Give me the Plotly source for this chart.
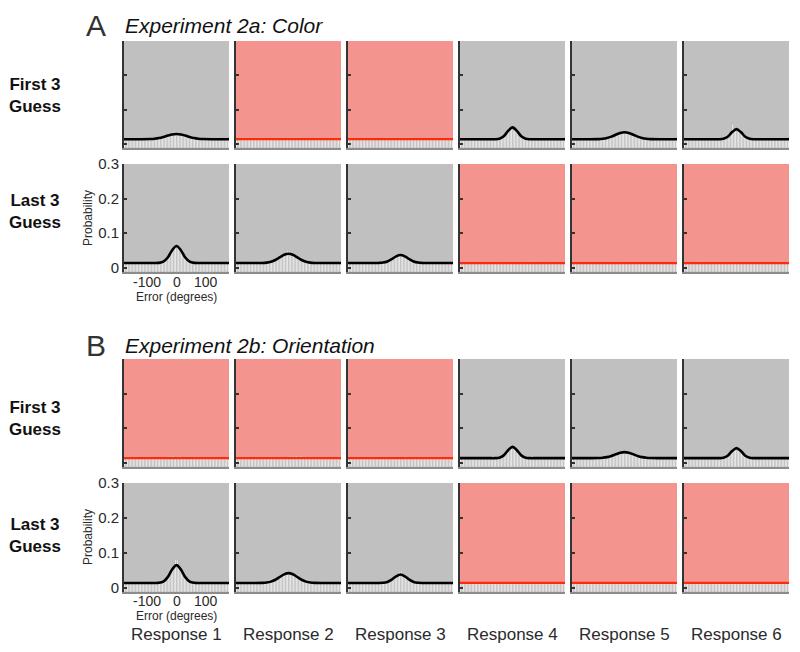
import plotly.graph_objects as go

# ---------------- data ----------------
BIN_WIDTH = 5
BIN_CENTERS = [-177.5 + BIN_WIDTH * i for i in range(72)]
CURVE_X = [-180, -120, -90, -75, -60, -45, -30, -15, 0, 15, 30, 45, 60, 75, 90, 120, 180]
UNIFORM_LEVEL = 139  # x1e-4

RESPONSES = ["Response 1", "Response 2", "Response 3", "Response 4", "Response 5", "Response 6"]
ROW_LABELS = ["First 3<br>Guess", "Last 3<br>Guess", "First 3<br>Guess", "Last 3<br>Guess"]
SECTION_LETTERS = ["A", "B"]
SECTION_TITLES = ["Experiment 2a: Color", "Experiment 2b: Orientation"]
Y_TICKS = [0, 0.1, 0.2, 0.3]
Y_TICK_TEXT = ["0", "0.1", "0.2", "0.3"]
X_TICKS = [-100, 0, 100]
X_TICK_TEXT = ["-100", "0", "100"]

# model chosen per panel: 'mix' = guessing + von Mises (black), 'uniform' = pure guessing (red)
MODEL_A_FIRST = ["mix", "uniform", "uniform", "mix", "mix", "mix"]
MODEL_A_LAST = ["mix", "mix", "mix", "uniform", "uniform", "uniform"]
MODEL_B_FIRST = ["uniform", "uniform", "uniform", "mix", "mix", "mix"]
MODEL_B_LAST = ["mix", "mix", "mix", "uniform", "uniform", "uniform"]

# fitted curves (probability x1e-4) at CURVE_X; None for uniform panels
FIT_A_FIRST = [
    [135, 135, 141, 151, 171, 203, 242, 276, 290, 276, 242, 203, 171, 151, 141, 135, 135],
    None, None,
    [135, 135, 135, 135, 136, 150, 221, 379, 480, 379, 221, 150, 136, 135, 135, 135, 135],
    [135, 135, 139, 148, 170, 211, 267, 319, 340, 319, 267, 211, 170, 148, 139, 135, 135],
    [135, 135, 135, 135, 136, 148, 208, 344, 430, 344, 208, 148, 136, 135, 135, 135, 135],
]
FIT_A_LAST = [
    [139, 139, 139, 139, 144, 178, 298, 509, 629, 509, 298, 178, 144, 139, 139, 139, 139],
    [139, 139, 142, 151, 176, 227, 303, 377, 409, 377, 303, 227, 176, 151, 142, 139, 139],
    [139, 139, 139, 142, 152, 185, 251, 331, 369, 331, 251, 185, 152, 142, 139, 139, 139],
    None, None, None,
]
FIT_B_FIRST = [
    None, None, None,
    [135, 135, 135, 135, 136, 149, 216, 365, 460, 365, 216, 149, 136, 135, 135, 135, 135],
    [135, 135, 138, 146, 165, 200, 248, 292, 310, 292, 248, 200, 165, 146, 138, 135, 135],
    [135, 135, 135, 135, 136, 147, 206, 340, 425, 340, 206, 147, 136, 135, 135, 135, 135],
]
FIT_B_LAST = [
    [139, 139, 139, 139, 145, 180, 305, 524, 649, 524, 305, 180, 145, 139, 139, 139, 139],
    [139, 139, 142, 151, 177, 230, 309, 386, 419, 386, 309, 230, 177, 151, 142, 139, 139],
    [139, 139, 139, 139, 145, 169, 234, 329, 379, 329, 234, 169, 145, 139, 139, 139, 139],
    None, None, None,
]

# histograms: proportion of responses per 5-degree bin (x1e-4)
HIST_A_FIRST = [
    [140,128,150,132,145,121,138,155,130,142,126,149, 137,131,158,124,146,139,150,138,155,149,170,160,
     182,178,205,214,230,241,262,255,280,291,279,300, 296,281,285,268,270,244,240,215,220,190,188,170,
     172,150,160,141,152,138,142,130,147,136,128,151, 139,133,160,144,127,149,175,168,131,180,146,172],
    [128,150,112,165,140,131,158,120,145,162,118,136, 149,127,171,140,133,125,150,144,118,160,137,129,
     146,152,121,139,133,168,175,142,180,130,155,171, 162,138,149,180,126,158,143,131,170,119,147,136,
     152,128,141,163,117,134,150,126,142,158,131,120, 147,139,125,161,143,112,152,138,129,148,135,170],
    [135,118,147,129,160,141,122,153,137,126,149,131, 144,120,156,138,127,162,133,148,119,141,155,130,
     139,124,151,145,132,166,128,150,142,171,136,158, 147,133,175,129,161,152,140,183,126,168,145,137,
     129,159,142,121,150,134,163,138,146,117,152,140, 131,148,125,157,139,144,128,166,134,121,153,142],
    [142,129,151,138,124,147,133,156,140,127,149,136, 131,158,125,144,137,150,122,141,163,134,146,128,
     145,132,150,161,170,210,236,300,342,418,445,490, 470,462,398,356,285,250,198,180,150,152,133,146,
     139,127,155,143,130,148,135,160,124,141,152,137, 146,133,158,129,140,165,127,150,138,144,131,155],
    [138,151,126,143,135,160,129,147,133,122,155,140, 128,146,137,152,131,140,149,133,158,162,150,172,
     195,210,200,226,230,262,270,301,305,332,328,360, 370,340,318,315,290,283,250,241,214,208,180,182,
     160,168,145,150,160,132,148,139,129,156,141,135, 150,128,143,160,137,146,125,158,139,132,165,144],
    [133,148,127,141,156,130,145,138,124,152,136,143, 147,125,139,158,132,144,129,150,137,121,155,140,
     142,131,150,160,175,188,235,262,330,580,400,445, 440,398,372,310,278,220,199,160,158,139,146,130,
     151,136,144,128,159,140,133,147,126,153,138,145, 129,154,141,137,148,123,160,135,143,131,157,139],
]
HIST_A_LAST = [
    [142,136,151,129,147,140,133,158,138,126,149,144, 131,155,139,146,170,137,128,152,141,135,148,143,
     150,149,175,185,230,262,335,392,480,535,605,630, 618,600,548,466,405,320,276,218,195,162,158,141,
     150,137,146,132,143,158,175,140,129,152,136,145, 139,147,131,156,138,144,127,150,176,141,133,148],
    [145,138,152,168,172,140,131,149,136,155,142,128, 141,150,133,146,139,152,137,149,146,160,158,175,
     185,192,220,233,270,282,320,338,372,380,410,500, 490,398,392,360,350,310,295,258,245,210,200,178,
     172,158,175,145,150,138,147,133,151,140,129,146, 137,152,143,131,148,140,156,134,145,129,150,142],
    [140,133,152,127,146,138,155,142,129,150,136,144, 131,148,137,156,141,133,150,139,146,152,144,160,
     160,170,172,200,210,245,260,300,315,350,372,375, 370,352,348,312,296,258,242,209,198,170,168,150,
     152,140,146,158,133,149,141,137,155,128,147,143, 136,150,141,129,157,144,132,148,139,160,135,146],
    [141,126,153,137,160,132,145,128,150,139,166,122, 147,135,158,129,143,152,120,148,137,161,131,144,
     156,127,140,149,134,171,138,126,155,143,132,150, 128,162,145,137,151,124,168,140,133,157,146,129,
     143,153,131,147,136,159,125,144,150,138,162,134, 148,130,142,155,127,141,152,136,164,129,145,158],
    [132,147,138,159,124,143,151,135,129,156,140,146, 137,160,128,145,133,149,142,126,158,139,131,152,
     144,121,155,138,147,130,163,141,136,150,128,167, 154,136,142,129,161,145,133,150,138,157,124,143,
     140,158,131,147,135,126,153,144,137,162,129,149, 127,145,139,163,134,150,122,148,141,136,155,131],
    [150,134,141,127,156,143,138,162,129,147,135,152, 125,148,140,159,133,146,137,130,154,142,165,128,
     139,151,132,145,160,127,149,136,143,157,131,146, 158,142,129,153,138,147,164,126,140,135,151,144,
     133,146,155,129,141,162,137,150,128,145,139,157, 144,129,150,138,153,131,146,140,127,159,136,142],
]
HIST_B_FIRST = [
    [138,124,165,130,147,171,135,126,152,141,133,158, 129,146,137,160,122,149,139,131,156,168,143,127,
     140,150,133,127,162,144,175,182,168,190,172,160, 176,150,185,143,172,166,138,180,159,131,147,136,
     152,128,141,135,149,126,143,158,130,144,137,150, 131,145,139,127,153,142,120,147,136,133,149,138],
    [142,170,128,136,154,131,147,125,139,160,133,144, 118,150,137,129,146,134,152,141,127,158,136,175,
     143,131,149,138,165,127,152,144,135,170,148,140, 139,176,150,185,160,192,171,146,188,163,150,178,
     133,168,142,129,156,137,173,140,151,128,145,136, 150,131,144,138,162,127,149,135,141,156,130,167],
    [140,133,160,128,146,152,135,126,158,143,131,149, 137,165,129,144,151,136,170,142,127,155,139,148,
     131,158,146,136,163,140,175,129,150,166,138,145, 172,149,136,181,144,170,158,133,165,147,139,156,
     128,150,142,161,135,146,130,154,137,143,159,132, 145,136,152,129,140,163,138,147,126,150,134,158],
    [136,149,128,142,155,131,144,139,126,152,137,145, 150,127,141,134,160,138,129,147,155,133,143,136,
     141,135,152,150,180,195,245,280,345,380,445,470, 465,425,398,330,290,230,205,168,160,142,145,133,
     148,132,150,139,127,156,141,136,153,129,145,140, 134,157,140,128,151,143,137,160,130,146,139,152],
    [129,146,137,152,140,133,158,126,144,139,150,131, 143,136,155,130,147,139,145,150,141,152,160,165,
     175,178,200,205,230,236,262,268,292,300,312,305, 330,308,292,290,265,260,232,228,200,198,176,174,
     165,150,152,140,146,132,155,137,144,129,148,139, 142,127,151,136,158,133,145,140,129,154,138,147],
    [145,130,153,139,127,148,136,160,132,143,151,128, 139,154,133,146,125,150,141,137,158,129,147,135,
     133,145,140,158,165,200,220,275,310,370,470,430, 418,405,355,322,262,230,188,172,150,148,135,141,
     150,137,128,155,142,133,149,140,126,157,138,146, 131,148,141,136,160,129,152,143,137,126,155,140],
]
HIST_B_LAST = [
    [140,152,131,146,137,158,129,143,150,134,147,139, 133,148,141,160,135,172,146,130,152,138,144,150,
     150,158,166,200,222,280,330,415,480,565,620,820, 800,610,552,492,402,340,270,230,188,175,150,152,
     176,172,138,145,152,131,147,140,156,128,143,137, 149,135,142,158,130,146,139,153,127,144,136,150],
    [143,129,156,138,147,133,150,141,126,152,137,145, 136,150,142,131,148,139,157,150,146,158,165,170,
     190,195,225,238,272,290,330,345,380,405,430,480, 470,440,390,380,345,330,290,270,238,222,195,188,
     175,158,160,147,150,138,145,141,132,155,139,146, 140,153,133,147,129,158,142,136,150,127,145,138],
    [137,150,128,144,159,133,146,140,125,153,138,147, 131,146,139,155,128,150,143,136,158,141,132,149,
     150,148,168,172,200,215,255,278,320,338,372,470, 480,360,348,310,285,245,224,190,180,158,156,143,
     152,138,145,131,157,140,135,149,127,146,160,134, 144,131,150,138,126,155,142,137,148,130,153,139],
    [136,151,129,145,160,133,142,127,155,138,147,131, 149,134,140,163,128,146,137,152,125,143,158,139,
     130,147,155,136,142,129,151,165,138,144,132,160, 146,175,133,150,139,158,127,168,143,135,152,141,
     137,128,154,143,131,149,160,136,145,126,150,139, 155,140,132,147,138,162,129,143,151,134,146,128],
    [142,128,147,139,153,131,160,135,144,126,150,137, 133,156,141,127,148,138,145,162,130,152,136,143,
     151,135,129,158,140,146,133,150,127,165,142,138, 170,144,136,152,128,147,139,160,134,149,180,131,
     145,132,157,138,126,149,141,135,155,128,146,140, 130,150,138,144,159,132,147,126,153,139,135,148],
    [148,133,140,157,129,145,138,151,126,143,160,135, 139,152,131,146,137,164,128,149,142,135,155,130,
     144,127,150,138,159,133,146,141,129,153,136,148, 131,158,143,136,170,140,127,149,138,162,134,145,
     153,129,146,140,135,157,142,131,150,137,128,148, 136,145,130,152,141,138,159,127,144,150,133,147],
]

ROWS = [
    (MODEL_A_FIRST, FIT_A_FIRST, HIST_A_FIRST),
    (MODEL_A_LAST, FIT_A_LAST, HIST_A_LAST),
    (MODEL_B_FIRST, FIT_B_FIRST, HIST_B_FIRST),
    (MODEL_B_LAST, FIT_B_LAST, HIST_B_LAST),
]

# ---------------- layout / style ----------------
W, H = 800, 652
OFF = 8  # page body margin: screen px -> figure px
ROW_PX = [(41, 148), (164, 272), (359, 467), (483, 592)]
COL_LEFT0, COL_PITCH, COL_W = 124, 112, 105
Y_MIN, Y_MAX = -0.012, 0.3
SCALE = 1e-4

GRAY_BG = "#c0c0c0"
RED_BG = "#f3948f"
RED_LINE = "#ff2a0a"
FONT = "Liberation Sans, Arial, Helvetica, sans-serif"
TXT = "#2a2a2a"


def px(X):
    return (X - OFF) / W


def py(Y):
    return 1 - (Y - OFF) / H


fig = go.Figure()
layout = dict(
    width=W, height=H, margin=dict(l=0, r=0, t=0, b=0, autoexpand=False),
    paper_bgcolor="white", plot_bgcolor="rgba(0,0,0,0)",
    showlegend=False, barmode="overlay",
    font=dict(family=FONT, color=TXT),
)
shapes = []
annotations = []

# label placement (screen px) for the labelled panels: (x tick labels, "Error (degrees)", "Probability")
LABEL_Y = {1: (282, 297, 218), 3: (601, 616, 537)}

n = 0
for r, (models, fits, hists) in enumerate(ROWS):
    top, bot = ROW_PX[r]
    for c in range(6):
        n += 1
        sfx = "" if n == 1 else str(n)
        xa, ya = "x" + sfx, "y" + sfx
        x0 = COL_LEFT0 + COL_PITCH * c
        labelled = (r in LABEL_Y) and c == 0

        layout["xaxis" + sfx] = dict(
            domain=[px(x0), px(x0 + COL_W)], anchor=ya, range=[-180, 180], automargin=False,
            showgrid=False, zeroline=False, showline=True, linecolor="#8c8c8c", linewidth=1.5,
            ticks="", showticklabels=False,
        )
        layout["yaxis" + sfx] = dict(
            domain=[py(bot), py(top)], anchor=xa, range=[Y_MIN, Y_MAX], automargin=False,
            showgrid=False, zeroline=False, showline=True, linecolor="#333333", linewidth=2,
            ticks="inside", ticklen=3, tickwidth=1.5, tickcolor="#333333",
            tickvals=Y_TICKS, ticktext=Y_TICK_TEXT, showticklabels=labelled,
            tickfont=dict(size=15, family=FONT, color=TXT),
        )
        model = models[c]
        shapes.append(dict(
            type="rect", xref=xa + " domain", yref=ya + " domain", x0=0, x1=1, y0=0, y1=1,
            fillcolor=GRAY_BG if model == "mix" else RED_BG, line=dict(width=0), layer="below",
        ))

        hist = hists[c]
        fig.add_trace(go.Bar(
            x=BIN_CENTERS, y=[v * SCALE - Y_MIN for v in hist], base=Y_MIN, width=BIN_WIDTH,
            marker=dict(color="white", line=dict(color="#a8a8a8", width=0.5)),
            xaxis=xa, yaxis=ya, hoverinfo="skip",
        ))
        if model == "mix":
            fig.add_trace(go.Scatter(
                x=CURVE_X, y=[v * SCALE for v in fits[c]], mode="lines",
                line=dict(color="black", width=2.6, shape="spline", smoothing=0.8),
                xaxis=xa, yaxis=ya, hoverinfo="skip",
            ))
        else:
            fig.add_trace(go.Scatter(
                x=[-180, 180], y=[UNIFORM_LEVEL * SCALE] * 2, mode="lines",
                line=dict(color=RED_LINE, width=2.2),
                xaxis=xa, yaxis=ya, hoverinfo="skip",
            ))

        if labelled:
            y_tick, y_err, y_prob = LABEL_Y[r]
            for tv, tt in zip(X_TICKS, X_TICK_TEXT):
                annotations.append(dict(
                    text=tt, x=tv, y=py(y_tick), xref=xa, yref="paper",
                    xanchor="center", yanchor="middle", showarrow=False, borderpad=0,
                    font=dict(size=14, family=FONT, color=TXT),
                ))
            annotations.append(dict(
                text="Error (degrees)", x=0, y=py(y_err), xref=xa, yref="paper",
                xanchor="center", yanchor="middle", showarrow=False, borderpad=0,
                font=dict(size=12, family=FONT, color=TXT),
            ))
            annotations.append(dict(
                text="Probability", x=px(88), y=py(y_prob), xref="paper", yref="paper",
                xanchor="center", yanchor="middle", showarrow=False, textangle=-90,
                font=dict(size=12, family=FONT, color=TXT),
            ))

# row labels
ROW_LABEL_Y = [95, 212, 418, 535]
for lab, yy in zip(ROW_LABELS, ROW_LABEL_Y):
    annotations.append(dict(
        text="<b>" + lab + "</b>", x=px(35), y=py(yy), xref="paper", yref="paper",
        xanchor="center", yanchor="middle", showarrow=False, align="center",
        font=dict(size=17, family=FONT, color="#111111"),
    ))

# section letters and titles
for letter, title, yy in zip(SECTION_LETTERS, SECTION_TITLES, [25, 344]):
    annotations.append(dict(
        text=letter, x=px(96), y=py(yy + 1), xref="paper", yref="paper",
        xanchor="center", yanchor="middle", showarrow=False, borderpad=0,
        font=dict(size=30, family=FONT, color="#333333"),
    ))
    annotations.append(dict(
        text="<i>" + title + "</i>", x=px(123), y=py(yy + 1), xref="paper", yref="paper",
        xanchor="left", yanchor="middle", showarrow=False,
        font=dict(size=21, family=FONT, color="#111111"),
    ))

# response labels
for c, lab in enumerate(RESPONSES):
    annotations.append(dict(
        text=lab, x=px(COL_LEFT0 + COL_PITCH * c + COL_W / 2), y=py(634),
        xref="paper", yref="paper", xanchor="center", yanchor="middle", showarrow=False,
        borderpad=0, font=dict(size=17, family=FONT, color=TXT),
    ))

layout["shapes"] = shapes
layout["annotations"] = annotations
fig.update_layout(**layout)
fig.write_html("out.html")
